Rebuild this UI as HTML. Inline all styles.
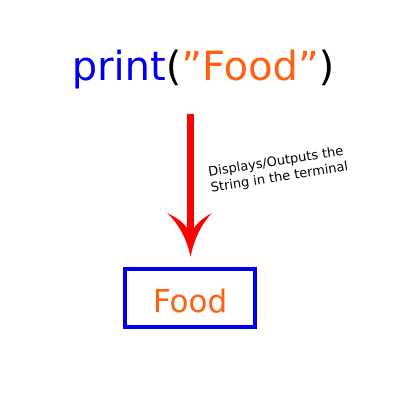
<!DOCTYPE html>
<html><head><meta charset="utf-8"><style>
body{margin:0;background:#fff;}
svg{display:block;font-family:"DejaVu Sans","Liberation Sans",sans-serif;}
</style></head><body>
<svg width="400" height="400" viewBox="0 0 400 400">
<text x="203" y="80" text-anchor="middle" font-size="40"><tspan fill="#0000ee">print</tspan><tspan fill="#000">(</tspan><tspan fill="#ff6011">”Food”</tspan><tspan fill="#000">)</tspan></text>
<g>
<rect x="187" y="114" width="7" height="114" fill="#ff0000"/>
<path d="M167 213 Q182 220 187 228 L194 228 Q199 220 212 213 Q196 230 190.5 257 Q185 230 167 213Z" fill="#ff0000"/>
</g>
<text transform="translate(209,176) rotate(-9)" font-size="13" fill="#000"><tspan x="0" y="0">Displays/Outputs the</tspan><tspan x="0" y="16">String in the terminal</tspan></text>
<rect x="125" y="269" width="130" height="58" fill="none" stroke="#0000ee" stroke-width="4"/>
<text x="190" y="312" text-anchor="middle" font-size="31" fill="#ff6011">Food</text>
</svg>
</body></html>
